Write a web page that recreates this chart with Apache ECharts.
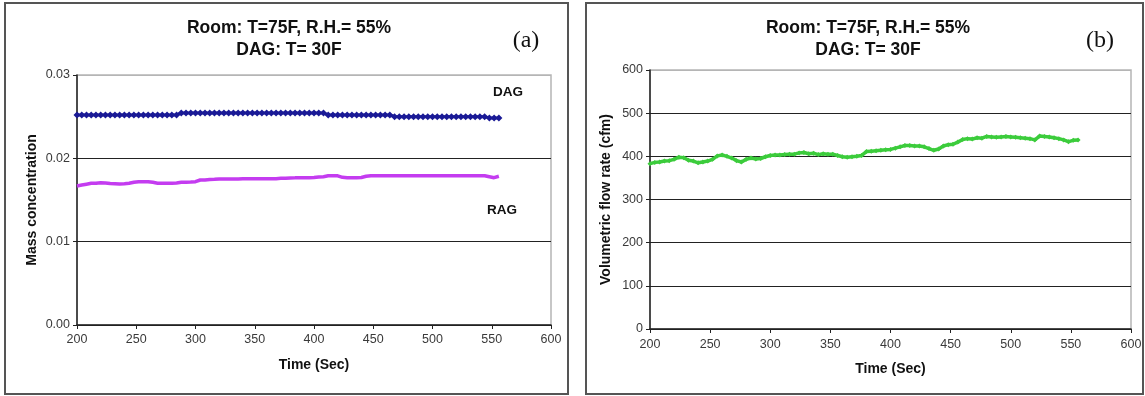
<!DOCTYPE html>
<html>
<head>
<meta charset="utf-8">
<script src="https://cdn.jsdelivr.net/npm/echarts@6/dist/echarts.min.js"></script>
<style>
html,body{margin:0;padding:0;background:#fff;}
#chart{width:1145px;height:396px;}
</style>
</head>
<body>
<div id="chart"></div>
<script>
// Time (Sec), shared by all series
var times = [
  200,204,208,212,216,220,224,228,232,236,
  240,244,248,252,256,260,264,268,272,276,
  280,284,288,292,296,300,304,308,312,316,
  320,324,328,332,336,340,344,348,352,356,
  360,364,368,372,376,380,384,388,392,396,
  400,404,408,412,416,420,424,428,432,436,
  440,444,448,452,456,460,464,468,472,476,
  480,484,488,492,496,500,504,508,512,516,
  520,524,528,532,536,540,544,548,552,556
];
// Panel (a): mass concentration
var dagValues = [
  0.0252,0.0252,0.0252,0.0252,0.0252,0.0252,0.0252,0.0252,0.0252,0.0252,
  0.0252,0.0252,0.0252,0.0252,0.0252,0.0252,0.0252,0.0252,0.0252,0.0252,
  0.0252,0.0252,0.02545,0.02545,0.02545,0.02545,0.02545,0.02545,0.02545,0.02545,
  0.02545,0.02545,0.02545,0.02545,0.02545,0.02545,0.02545,0.02545,0.02545,0.02545,
  0.02545,0.02545,0.02545,0.02545,0.02545,0.02545,0.02545,0.02545,0.02545,0.02545,
  0.02545,0.02545,0.02545,0.0252,0.0252,0.0252,0.0252,0.0252,0.0252,0.0252,
  0.0252,0.0252,0.0252,0.0252,0.0252,0.0252,0.0252,0.0250,0.0250,0.0250,
  0.0250,0.0250,0.0250,0.0250,0.0250,0.0250,0.0250,0.0250,0.0250,0.0250,
  0.0250,0.0250,0.0250,0.0250,0.0250,0.0250,0.0250,0.02485,0.02485,0.02485
];
var ragValues = [
  0.01668,0.0168,0.0169,0.0170,0.0170,0.01708,0.01705,0.01698,0.01695,0.01692,
  0.01695,0.0170,0.01712,0.0172,0.0172,0.0172,0.01712,0.01702,0.0170,0.0170,
  0.0170,0.01705,0.01712,0.01712,0.01715,0.0172,0.0174,0.0174,0.01745,0.01748,
  0.01752,0.01752,0.01752,0.01753,0.01753,0.01754,0.01754,0.01754,0.01755,0.01755,
  0.01755,0.01756,0.01756,0.0176,0.01762,0.01765,0.01766,0.01768,0.01768,0.01768,
  0.0177,0.01775,0.0178,0.0179,0.01792,0.0179,0.01772,0.01768,0.01768,0.01768,
  0.0177,0.01785,0.01792,0.01792,0.01792,0.01792,0.01792,0.01792,0.01792,0.01792,
  0.01792,0.01792,0.01792,0.01792,0.01792,0.01792,0.01792,0.01792,0.01792,0.01792,
  0.01792,0.01792,0.01792,0.01792,0.01792,0.01792,0.01792,0.0178,0.01768,0.01785
];
// Panel (b): volumetric flow rate (cfm)
var flowValues = [
  383,386,387,389,390,393,398,397,391,389,
  385,387,389,393,401,403,400,396,390,387,
  393,396,394,395,399,402,403,403,404,405,
  405,408,409,406,407,404,406,405,405,402,
  399,398,399,400,402,411,412,413,414,415,
  416,419,422,425,425,424,424,422,418,414,
  417,424,427,428,433,439,441,440,443,442,
  446,445,444,445,446,445,444,443,442,441,
  438,447,446,445,443,441,438,434,437,438
];
var titleLine1 = 'Room: T=75F, R.H.= 55%';
var titleLine2 = 'DAG: T= 30F';

function pairs(xs, ys){ var out=[]; for(var i=0;i<xs.length && i<ys.length;i++){ out.push([xs[i], ys[i]]); } return out; }

var FONT = '"Liberation Sans", Arial, sans-serif';
var chart = echarts.init(document.getElementById('chart'), null, {renderer:'canvas'});

function xAxisDef(gi, labelMargin){
  return {
    type:'value', gridIndex:gi, min:200, max:600, interval:50,
    name:'Time (Sec)', nameLocation:'middle', nameGap:33,
    nameTextStyle:{fontFamily:FONT, fontSize:14, fontWeight:'bold', color:'#111'},
    axisLine:{show:true, lineStyle:{color:'#222', width:1.5}},
    axisTick:{show:true, length:4, lineStyle:{color:'#222'}},
    axisLabel:{fontFamily:FONT, fontSize:12.5, color:'#3a3a3a', margin:labelMargin},
    splitLine:{show:false}
  };
}

var option = {
  animation:false,
  backgroundColor:'#fff',
  grid:[
    {left:77, top:75, width:474, height:250, show:true, borderColor:'#b5b5b5', borderWidth:1.5, backgroundColor:'#fff'},
    {left:650, top:70, width:481, height:259, show:true, borderColor:'#b5b5b5', borderWidth:1.5, backgroundColor:'#fff'}
  ],
  xAxis:[ xAxisDef(0, 8), xAxisDef(1, 9) ],
  yAxis:[
    {type:'value', gridIndex:0, min:0, max:0.03, interval:0.01,
     name:'Mass concentration', nameLocation:'middle', nameGap:38,
     nameTextStyle:{fontFamily:FONT, fontSize:14, fontWeight:'bold', color:'#111'},
     axisLine:{show:true, lineStyle:{color:'#222', width:1.5}},
     axisTick:{show:true, length:4, lineStyle:{color:'#222'}},
     axisLabel:{fontFamily:FONT, fontSize:12.5, color:'#3a3a3a', margin:7, formatter:function(v){return v.toFixed(2);}},
     splitLine:{show:true, lineStyle:{color:['#222','#222','#222','#b5b5b5'], width:1}}
    },
    {type:'value', gridIndex:1, min:0, max:600, interval:100,
     name:'Volumetric flow rate (cfm)', nameLocation:'middle', nameGap:37,
     nameTextStyle:{fontFamily:FONT, fontSize:14, fontWeight:'bold', color:'#111'},
     axisLine:{show:true, lineStyle:{color:'#222', width:1.5}},
     axisTick:{show:true, length:4, lineStyle:{color:'#222'}},
     axisLabel:{fontFamily:FONT, fontSize:12.5, color:'#3a3a3a', margin:7},
     splitLine:{show:true, lineStyle:{color:['#222','#222','#222','#222','#222','#222','#b5b5b5'], width:1}}
    }
  ],
  series:[
    {name:'DAG', type:'line', xAxisIndex:0, yAxisIndex:0, data:pairs(times, dagValues),
     symbol:'diamond', symbolSize:7, showSymbol:true,
     itemStyle:{color:'#1a1a96'}, lineStyle:{color:'#1a1a96', width:3}},
    {name:'RAG', type:'line', xAxisIndex:0, yAxisIndex:0, data:pairs(times, ragValues),
     showSymbol:false, symbol:'none',
     lineStyle:{color:'#c43cf0', width:3.5}},
    {name:'Flow', type:'line', xAxisIndex:1, yAxisIndex:1, data:pairs(times, flowValues),
     symbol:'diamond', symbolSize:5, showSymbol:true,
     itemStyle:{color:'#3ccc3c'}, lineStyle:{color:'#3ccc3c', width:3.5}}
  ],
  graphic:[
    {type:'rect', shape:{x:5, y:3, width:563, height:391}, style:{fill:'none', stroke:'#555', lineWidth:2}, z:0},
    {type:'rect', shape:{x:586, y:3, width:557, height:391}, style:{fill:'none', stroke:'#555', lineWidth:2}, z:0},
    {type:'text', x:289, y:28, style:{text:titleLine1, font:'bold 17.5px '+FONT, fill:'#111', textAlign:'center', textVerticalAlign:'middle'}},
    {type:'text', x:289, y:50, style:{text:titleLine2, font:'bold 17.5px '+FONT, fill:'#111', textAlign:'center', textVerticalAlign:'middle'}},
    {type:'text', x:868, y:28, style:{text:titleLine1, font:'bold 17.5px '+FONT, fill:'#111', textAlign:'center', textVerticalAlign:'middle'}},
    {type:'text', x:868, y:50, style:{text:titleLine2, font:'bold 17.5px '+FONT, fill:'#111', textAlign:'center', textVerticalAlign:'middle'}},
    {type:'text', x:526, y:41, style:{text:'(a)', font:'24px "Liberation Serif", "Times New Roman", serif', fill:'#111', textAlign:'center', textVerticalAlign:'middle'}},
    {type:'text', x:1100, y:41, style:{text:'(b)', font:'24px "Liberation Serif", "Times New Roman", serif', fill:'#111', textAlign:'center', textVerticalAlign:'middle'}},
    {type:'text', x:508, y:92, style:{text:'DAG', font:'bold 13.5px '+FONT, fill:'#111', textAlign:'center', textVerticalAlign:'middle'}},
    {type:'text', x:502, y:210, style:{text:'RAG', font:'bold 13.5px '+FONT, fill:'#111', textAlign:'center', textVerticalAlign:'middle'}}
  ]
};
chart.setOption(option);
</script>
</body>
</html>
